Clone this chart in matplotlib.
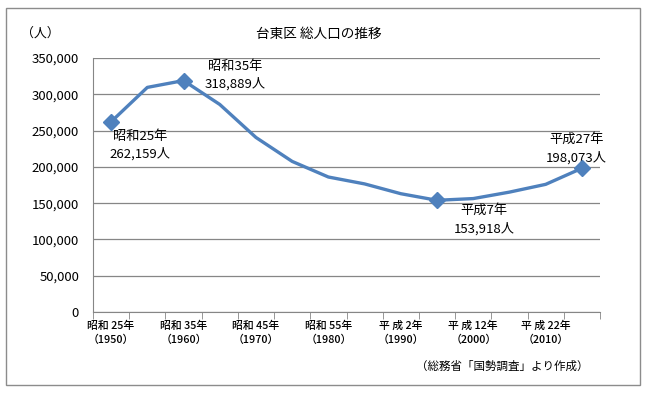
import matplotlib
matplotlib.use("Agg")
import matplotlib.pyplot as plt
from matplotlib.patches import Rectangle
import numpy as np

plt.rcParams['font.family'] = ['Noto Sans CJK JP', 'DejaVu Sans']

years = [1950, 1955, 1960, 1965, 1970, 1975, 1980, 1985, 1990, 1995, 2000, 2005, 2010, 2015]
population = [262159, 309500, 318889, 286000, 240500, 207500, 186000, 176500, 163000, 153918, 156300, 165200, 175900, 198073]
tick_labels = ["昭和 25年\n（1950）", "昭和 35年\n（1960）", "昭和 45年\n（1970）", "昭和 55年\n（1980）",
               "平 成 2年\n（1990）", "平 成 12年\n（2000）", "平 成 22年\n（2010）"]
marked_idx = [0, 2, 9, 13]
marked_labels = ["昭和25年\n262,159人", "昭和35年\n318,889人", "平成7年\n153,918人", "平成27年\n198,073人"]

fig = plt.figure(figsize=(6.47, 3.93), dpi=100)
fig.patches.append(Rectangle((6/647, 8/393), 634/647, 377/393, transform=fig.transFigure,
                             fill=False, edgecolor='#8c8c8c', linewidth=1.0))

W, H = 647, 393
ax = fig.add_axes([93/W, 1 - 312/H, (600-93)/W, (312-58)/H])
x = np.arange(len(years))
ax.plot(x, population, color='#4F81BD', linewidth=2.4, zorder=3)
ax.plot(x[marked_idx], np.array(population)[marked_idx], linestyle='none', marker='D',
        markersize=8.5, color='#4F81BD', zorder=4)

ax.set_xlim(-0.5, len(years) - 0.5)
ax.set_ylim(0, 350000)
ax.set_yticks(np.arange(0, 350001, 50000))
ax.set_yticklabels([f"{v:,}" for v in range(0, 350001, 50000)], fontsize=9.5)
ax.yaxis.grid(True, color='#868686', linewidth=0.9)
ax.set_axisbelow(True)

ax.set_xticks(x[::2])
ax.set_xticklabels(tick_labels, fontsize=7.8, linespacing=1.5, fontweight='medium')
ax.set_xticks(np.arange(-0.5, len(years)), minor=True)
ax.tick_params(axis='x', which='major', length=0, pad=6)
ax.tick_params(axis='x', which='minor', length=5, color='#868686', direction='out')
ax.tick_params(axis='y', length=0, pad=10)

for s in ['top', 'right']:
    ax.spines[s].set_visible(False)
ax.spines['left'].set_color('#868686')
ax.spines['bottom'].set_color('#868686')

offsets = [(21, -17), (37, 4), (34, -14), (-4, 14)]
for i, lab, (dx, dy) in zip(marked_idx, marked_labels, offsets):
    ax.annotate(lab, (x[i], population[i]), xytext=(dx, dy), textcoords='offset points',
                ha='center', va='center', fontsize=9.5, linespacing=1.45)

fig.text(319/W, 1 - 34/H, "台東区 総人口の推移", ha='center', va='center', fontsize=9.8)
fig.text(40/W, 1 - 33/H, "（人）", ha='center', va='center', fontsize=9.3)
fig.text(589/W, 1 - 366/H, "（総務省「国勢調査」より作成）", ha='right', va='center', fontsize=8.3)

fig.savefig("out.png", dpi=100)
